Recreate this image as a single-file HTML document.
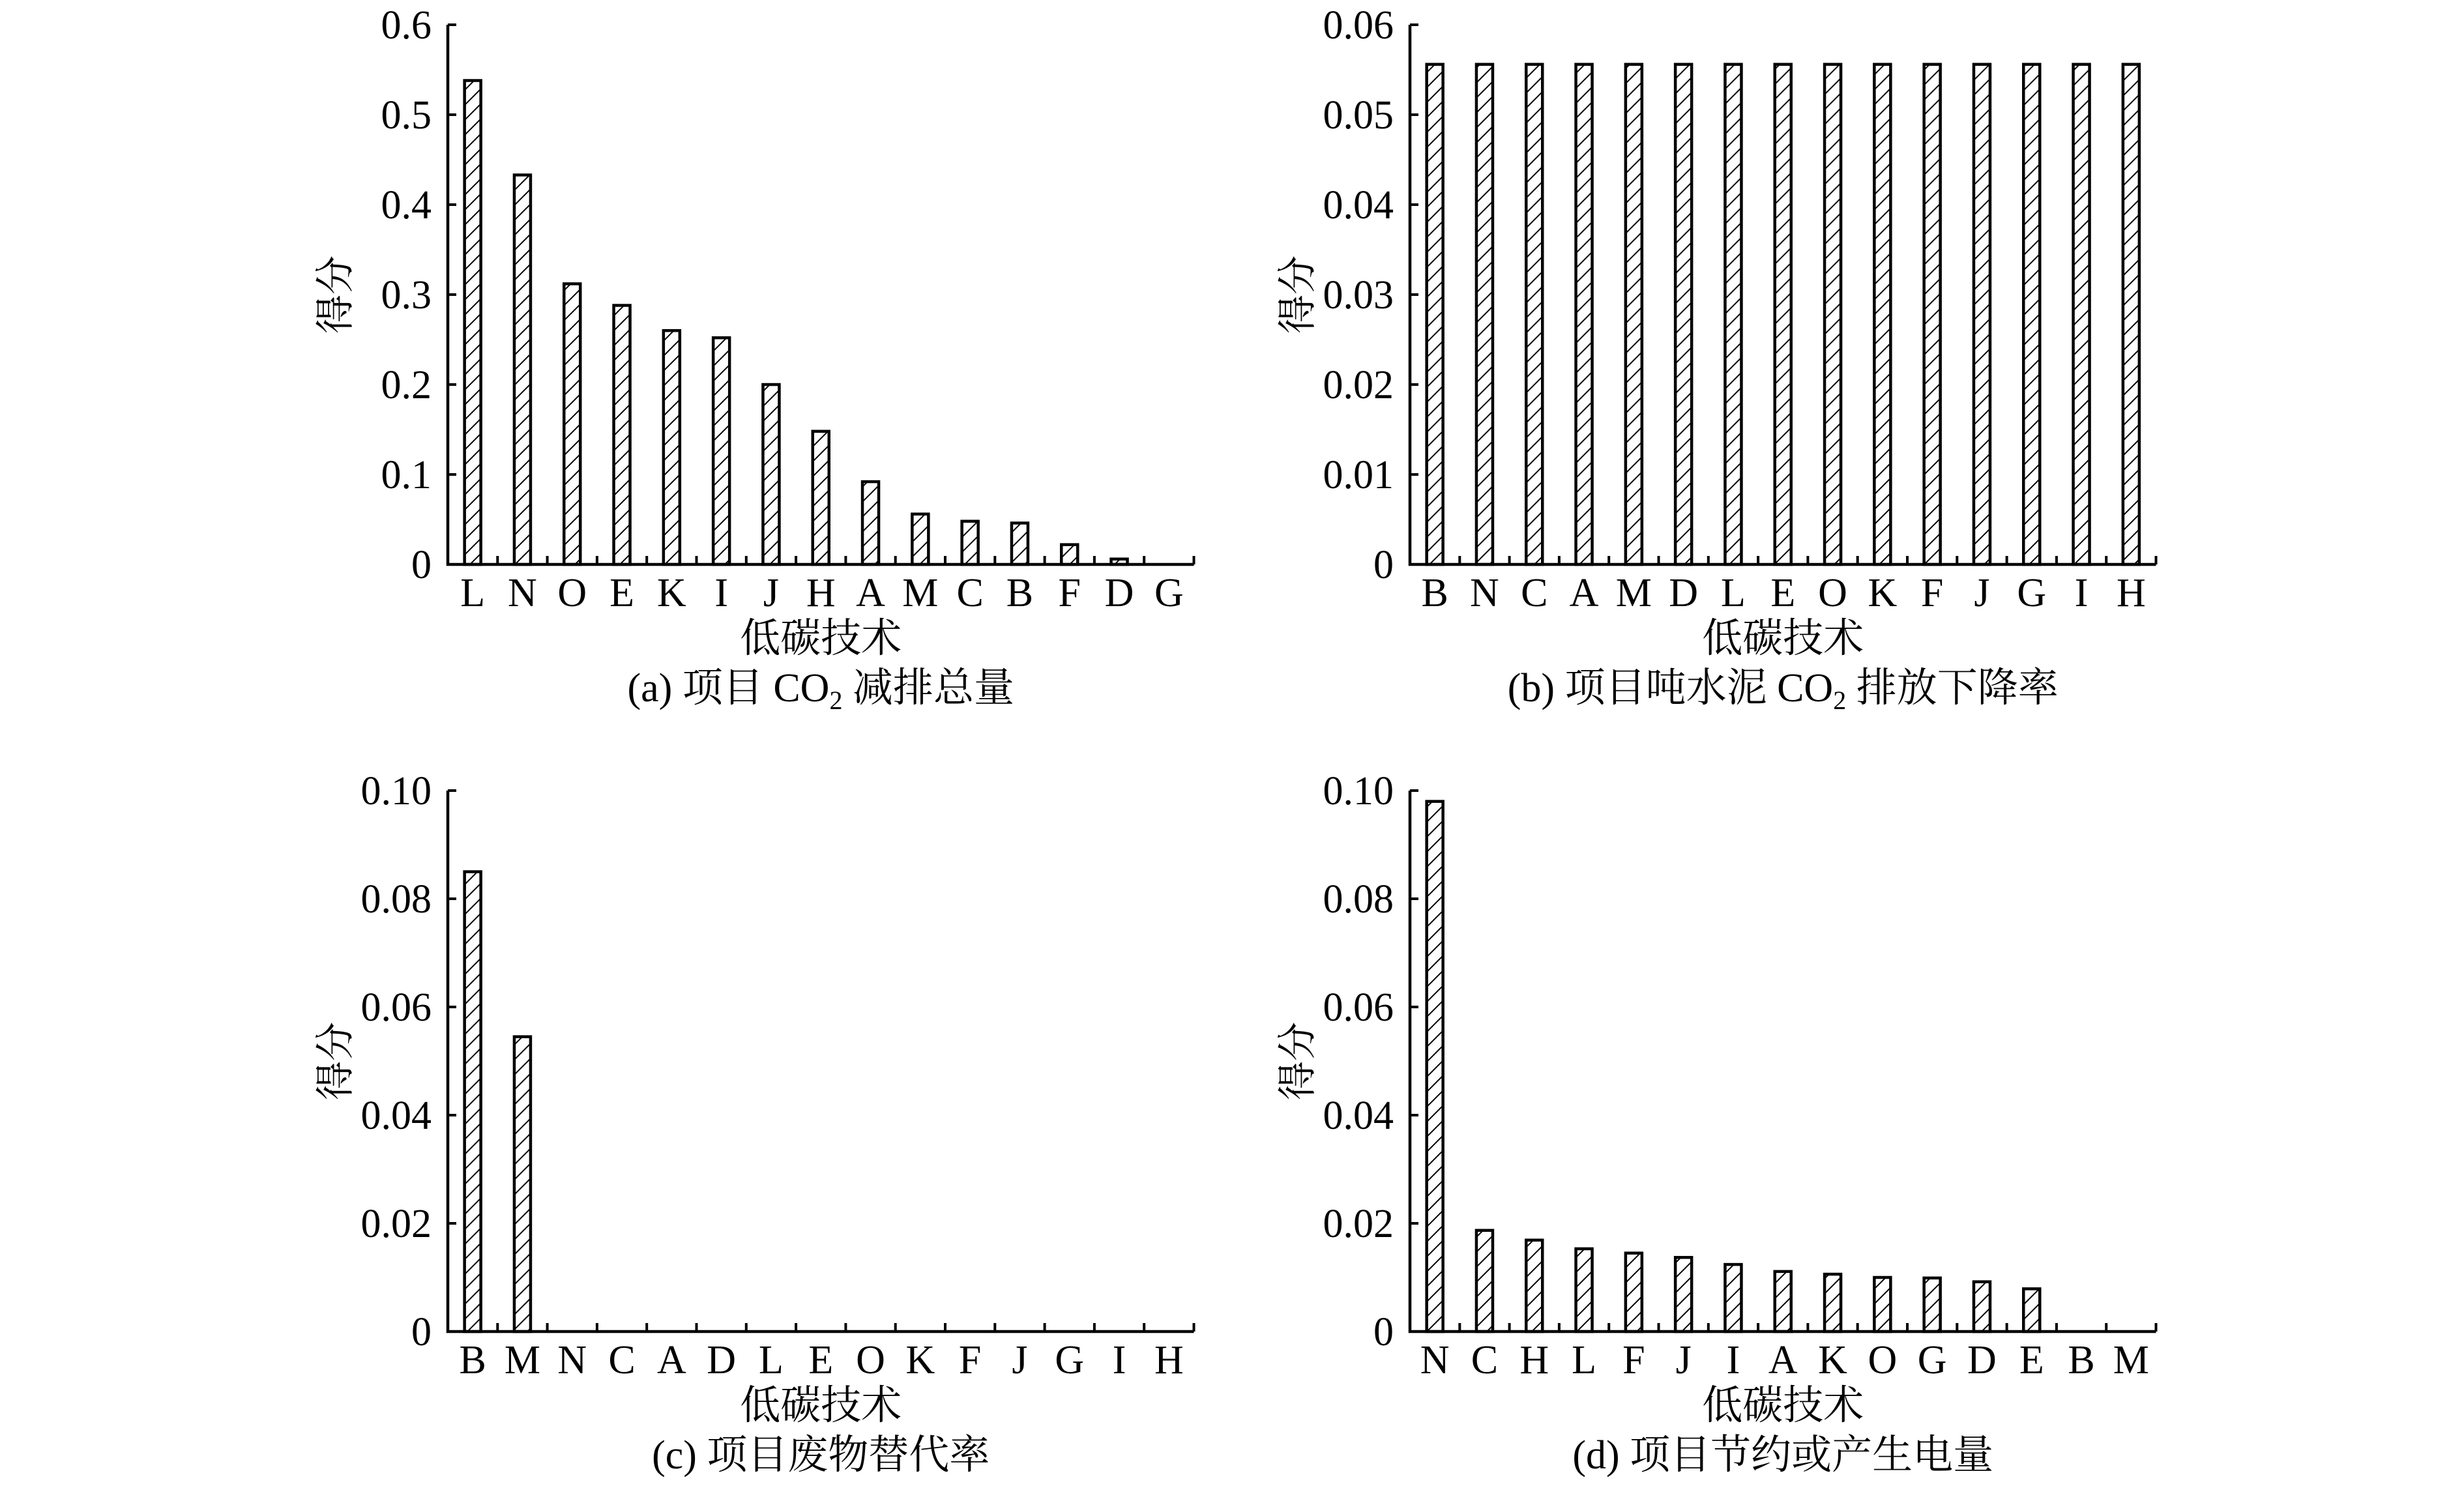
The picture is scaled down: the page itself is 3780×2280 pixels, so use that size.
<!DOCTYPE html>
<html><head><meta charset="utf-8"><style>
html,body{margin:0;padding:0;background:#fff}
svg text{font-family:"Liberation Serif","Noto Serif CJK SC","Noto Sans CJK SC",serif;fill:#000}
</style></head><body>
<svg id="s" xmlns="http://www.w3.org/2000/svg" width="3780" height="2275" viewBox="0 0 3780 2275">
<defs><pattern id="h" patternUnits="userSpaceOnUse" width="23" height="23">
<path d="M-2,25 L25,-2 M-2,2 L2,-2 M21,25 L25,21" stroke="#000" stroke-width="2"/></pattern></defs>
</svg>
<script>
var s=document.getElementById('s'),out='';
function panel(ax,top,zero,max,ticks,fmt,cats,vals,lab,cap,capSub){
 var sp=76.3,n=cats.length,right=ax+n*sp,h=zero-top;
 for(var i=0;i<n;i++){var cx=ax+sp*(i+0.5),v=vals[i];
  if(v>0){var y=zero-v/max*h;out+='<rect x="'+(cx-12.5)+'" y="'+y+'" width="25" height="'+(zero-y)+'" fill="url(#h)" stroke="#000" stroke-width="4.5"/>';}
  out+='<text x="'+cx+'" y="'+(zero+64)+'" font-size="62" text-anchor="middle">'+cats[i]+'</text>';
  out+='<line x1="'+(ax+sp*(i+1))+'" y1="'+zero+'" x2="'+(ax+sp*(i+1))+'" y2="'+(zero-13)+'" stroke="#000" stroke-width="4"/>';}
 out+='<path d="M'+right+','+zero+' H'+ax+' V'+top+'" fill="none" stroke="#000" stroke-width="4.5"/>';
 for(var k=0;k<ticks.length;k++){var y=zero-ticks[k]/max*h;
  out+='<line x1="'+ax+'" y1="'+y+'" x2="'+(ax+13)+'" y2="'+y+'" stroke="#000" stroke-width="4"/>';
  out+='<text x="'+(ax-25)+'" y="'+(y+21)+'" font-size="62" text-anchor="end">'+fmt[k]+'</text>';}
 var mx=(ax+right)/2;
 out+='<text x="'+(ax-172)+'" y="'+((top+zero)/2)+'" font-size="60" text-anchor="middle" dominant-baseline="central" transform="rotate(-90 '+(ax-172)+' '+((top+zero)/2)+')">得分</text>';
 out+='<text x="'+mx+'" y="'+(zero+134)+'" font-size="62" text-anchor="middle">低碳技术</text>';
 out+='<text x="'+mx+'" y="'+(zero+210)+'" font-size="62" text-anchor="middle">'+cap+'</text>';
}
var A=687,B=2163;
panel(A,38,866,0.6,[0,.1,.2,.3,.4,.5,.6],['0','0.1','0.2','0.3','0.4','0.5','0.6'],
 'LNOEKIJHAMCBFDG'.split(''),[.538,.433,.312,.288,.26,.252,.2,.148,.092,.056,.048,.046,.022,.006,0],
 '','(a) 项目 CO<tspan font-size="40" dy="12">2</tspan><tspan dy="-12"> 减排总量</tspan>');
panel(B,38,866,0.06,[0,.01,.02,.03,.04,.05,.06],['0','0.01','0.02','0.03','0.04','0.05','0.06'],
 'BNCAMDLEOKFJGIH'.split(''),[.0556,.0556,.0556,.0556,.0556,.0556,.0556,.0556,.0556,.0556,.0556,.0556,.0556,.0556,.0556],
 '','(b) 项目吨水泥 CO<tspan font-size="40" dy="12">2</tspan><tspan dy="-12"> 排放下降率</tspan>');
panel(A,1213,2043,0.1,[0,.02,.04,.06,.08,.1],['0','0.02','0.04','0.06','0.08','0.10'],
 'BMNCADLEOKFJGIH'.split(''),[.085,.0545,0,0,0,0,0,0,0,0,0,0,0,0,0],'','(c) 项目废物替代率');
panel(B,1213,2043,0.1,[0,.02,.04,.06,.08,.1],['0','0.02','0.04','0.06','0.08','0.10'],
 'NCHLFJIAKOGDEBM'.split(''),[.098,.0187,.0169,.0153,.0145,.0137,.0124,.0111,.0106,.01,.0099,.0092,.0079,0,0],'','(d) 项目节约或产生电量');
s.insertAdjacentHTML('beforeend',out);
</script>
</body></html>
